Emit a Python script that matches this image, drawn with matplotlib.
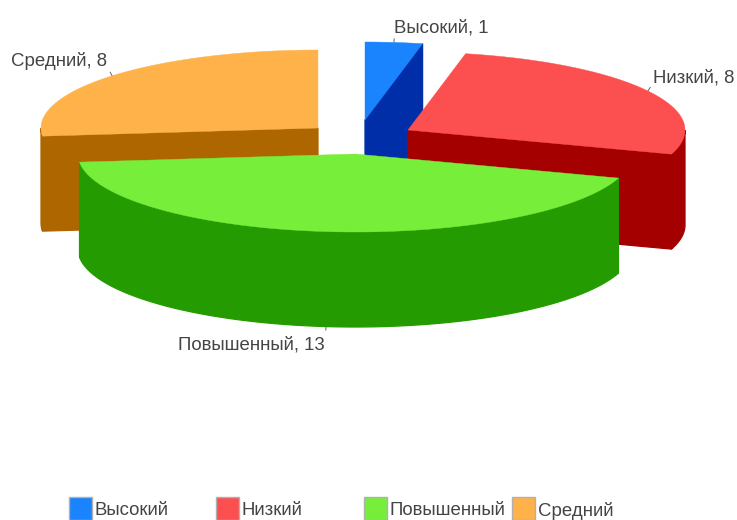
import numpy as np
import matplotlib
matplotlib.use("Agg")
import matplotlib.pyplot as plt
from matplotlib.patches import Polygon, Rectangle

# --- data ---
categories = ["Высокий", "Низкий", "Повышенный", "Средний"]
values = [1, 8, 13, 8]

# --- style / layout (pixel space) ---
top_colors = ["#1a84ff", "#fc5050", "#76ee3a", "#ffb24a"]
side_colors = ["#002ea8", "#a50000", "#249b00", "#ae6600"]
slice_centers = [(365, 120), (408, 130), (355, 154), (318, 128)]
RX, RY, DEPTH = 277, 78, 95
draw_order = [0, 3, 1, 2]
label_offsets = [(0, -14), (5, -13), (-1, 18), (-5, -15)]
label_aligns = ["left", "left", "right", "right"]
legend_x = [69, 216, 364, 512]
TEXT = "#444444"
FONT = "Liberation Sans"
FS = 13.4

W, H = 737, 520
fig = plt.figure(figsize=(W / 100, H / 100), dpi=100)
ax = fig.add_axes([0, 0, 1, 1])
ax.set_xlim(0, W)
ax.set_ylim(H, 0)
ax.axis("off")


def pt(center, deg, dz=0):
    a = np.radians(deg)
    return center[0] + RX * np.sin(a), center[1] - RY * np.cos(a) + dz


def arc(center, a0, a1, dz=0):
    n = max(2, int(abs(a1 - a0) * 2))
    return [pt(center, d, dz) for d in np.linspace(a0, a1, n)]


def add(poly, color, lw):
    ax.add_patch(Polygon(poly, closed=True, facecolor=color, edgecolor=color, linewidth=lw))


fractions = np.cumsum([0] + values) / sum(values) * 360
for i in draw_order:
    a0, a1 = fractions[i], fractions[i + 1]
    c = slice_centers[i]
    side = side_colors[i]
    base = c[0], c[1] + DEPTH

    # outer wall: front half only (90..270 deg from the top, clockwise)
    lo, hi = max(a0, 90), min(a1, 270)
    if hi > lo:
        add(arc(c, lo, hi) + arc(c, hi, lo, DEPTH), side, 0.9)
    # visible cut faces
    if np.sin(np.radians(a0)) < -1e-6:
        p = pt(c, a0)
        add([c, p, (p[0], p[1] + DEPTH), base], side, 0.9)
    if np.sin(np.radians(a1)) > 1e-6:
        p = pt(c, a1)
        add([c, p, (p[0], p[1] + DEPTH), base], side, 0.9)
    # top surface
    add([c] + arc(c, a0, a1), top_colors[i], 0.3)

# labels with short leader ticks
for i, (cat, val) in enumerate(zip(categories, values)):
    mid = (fractions[i] + fractions[i + 1]) / 2
    c = slice_centers[i]
    front = np.cos(np.radians(mid)) < 0
    x, y = pt(c, mid, DEPTH if front else 0)
    dy = 4 if front else -4
    ux = np.sin(np.radians(mid)) * 3
    ax.plot([x, x + ux], [y, y + dy], color="#666666", lw=0.7, solid_capstyle="butt")
    ox, oy = label_offsets[i]
    ax.text(x + ox, y + oy, f"{cat}, {val}", ha=label_aligns[i], va="center",
            color=TEXT, family=FONT, fontsize=FS)

# legend
for x0, cat, col in zip(legend_x, categories, top_colors):
    ax.add_patch(Rectangle((x0, 497), 23, 23, facecolor=col, edgecolor="#b0b0b0", linewidth=1.0, clip_on=True))
    ax.text(x0 + 26, 510.5, cat, ha="left", va="center", color=TEXT, family=FONT, fontsize=FS)

fig.savefig("out.png", dpi=100, facecolor="white")
